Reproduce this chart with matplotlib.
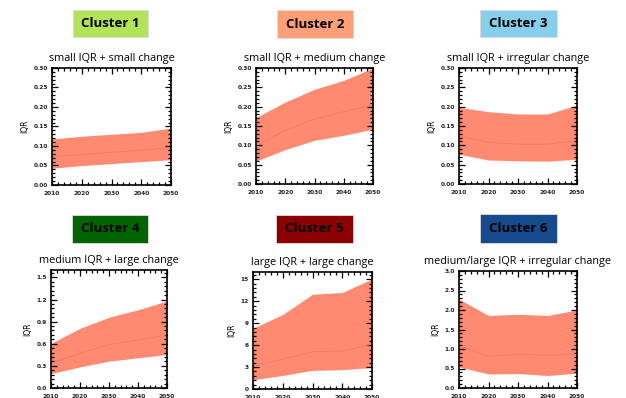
import matplotlib
matplotlib.use("Agg")
import matplotlib.pyplot as plt
from matplotlib.patches import Rectangle
from matplotlib.ticker import MultipleLocator

years = [2010, 2020, 2030, 2040, 2050]

c1_low = [0.043, 0.050, 0.055, 0.060, 0.065]
c1_med = [0.073, 0.078, 0.084, 0.089, 0.096]
c1_high = [0.118, 0.125, 0.130, 0.135, 0.146]

c2_low = [0.059, 0.089, 0.113, 0.126, 0.142]
c2_med = [0.099, 0.138, 0.168, 0.187, 0.205]
c2_high = [0.172, 0.212, 0.245, 0.268, 0.300]

c3_low = [0.077, 0.062, 0.060, 0.059, 0.064]
c3_med = [0.125, 0.107, 0.103, 0.103, 0.113]
c3_high = [0.198, 0.187, 0.181, 0.181, 0.204]

c4_low = [0.195, 0.286, 0.364, 0.410, 0.455]
c4_med = [0.330, 0.470, 0.590, 0.650, 0.720]
c4_high = [0.605, 0.809, 0.959, 1.060, 1.180]

c5_low = [1.27, 1.86, 2.55, 2.64, 2.95]
c5_med = [3.1, 4.1, 5.1, 5.2, 6.1]
c5_high = [8.3, 10.2, 12.95, 13.2, 15.05]

c6_low = [0.54, 0.36, 0.37, 0.32, 0.38]
c6_med = [1.08, 0.81, 0.87, 0.84, 0.87]
c6_high = [2.28, 1.86, 1.89, 1.86, 2.00]

cluster_names = ["Cluster 1", "Cluster 2", "Cluster 3", "Cluster 4", "Cluster 5", "Cluster 6"]
subtitles = ["small IQR + small change", "small IQR + medium change",
             "small IQR + irregular change", "medium IQR + large change",
             "large IQR + large change", "medium/large IQR + irregular change"]
box_colors = ["#b3e35a", "#ff9f78", "#86ceea", "#006400", "#8b0000", "#164a8c"]

W, H = 626, 398
fig = plt.figure(figsize=(W / 100, H / 100), dpi=100)
fig.patch.set_facecolor("white")

# axes rectangles in pixels: left, top, right, bottom
axes_px = [(52, 68, 171, 185), (256, 68, 373, 184), (459, 68, 577, 184),
           (51, 270, 167, 388), (253, 272, 372, 389), (459, 271, 577, 388)]
box_px = [(73, 10, 148, 37), (277, 10, 353, 38), (480, 10, 557, 37),
          (72, 215, 148, 243), (276, 215, 353, 243), (480, 214, 557, 243)]
ylims = [(0, 0.30), (0, 0.30), (0, 0.30), (0, 1.6), (0, 16), (0, 3.0)]
ymajor = [0.05, 0.05, 0.05, 0.3, 3, 0.5]
yminor = [0.01, 0.01, 0.01, 0.06, 0.6, 0.1]
yfmt = ["{:.2f}", "{:.2f}", "{:.2f}", "{:.1f}", "{:.0f}", "{:.1f}"]

series = [(c1_low, c1_med, c1_high), (c2_low, c2_med, c2_high), (c3_low, c3_med, c3_high),
          (c4_low, c4_med, c4_high), (c5_low, c5_med, c5_high), (c6_low, c6_med, c6_high)]

fill_color = "#ff8a72"
line_color = "#f57862"

for i in range(6):
    l, t, r, b = axes_px[i]
    ax = fig.add_axes([l / W, 1 - b / H, (r - l) / W, (b - t) / H])
    low, med, high = series[i]
    ax.fill_between(years, low, high, color=fill_color, lw=0)
    ax.plot(years, med, color=line_color, lw=0.6)
    ax.set_xlim(2010, 2050)
    ax.set_ylim(*ylims[i])
    ax.set_xticks(years)
    ax.xaxis.set_minor_locator(MultipleLocator(2))
    ax.yaxis.set_major_locator(MultipleLocator(ymajor[i]))
    ax.yaxis.set_minor_locator(MultipleLocator(yminor[i]))
    fmt = yfmt[i]
    ax.set_yticks(ax.get_yticks())
    ax.set_yticklabels([fmt.format(v) for v in ax.get_yticks()])
    ax.set_ylim(*ylims[i])
    ax.tick_params(which="both", direction="in", top=True, right=True,
                   width=0.9, labelsize=4.2)
    ax.tick_params(axis="x", which="major", pad=4)
    ax.tick_params(axis="y", which="major", pad=3)
    ax.tick_params(which="major", length=4)
    ax.tick_params(which="minor", length=2)
    for lab in ax.get_xticklabels() + ax.get_yticklabels():
        lab.set_fontweight("semibold")
        lab.set_family("DejaVu Sans")
        lab.set_color("#222222")
    for s in ax.spines.values():
        s.set_linewidth(1.2)
    ax.set_ylabel("IQR", fontsize=5.5, labelpad=3)
    ax.set_title(subtitles[i], fontsize=7.8, family="Open Sans", pad=5)

    bl, bt, br, bb = box_px[i]
    fig.patches.append(Rectangle((bl / W, 1 - bb / H), (br - bl) / W, (bb - bt) / H,
                                 transform=fig.transFigure, facecolor=box_colors[i],
                                 edgecolor="#dddddd", lw=0.6, zorder=0))
    fig.text((bl + br) / 2 / W, 1 - (bt + bb) / 2 / H, cluster_names[i],
             ha="center", va="center", fontsize=9.5, fontweight="bold",
             family="Open Sans", color="black")

fig.savefig("out.png", dpi=100, facecolor="white")
